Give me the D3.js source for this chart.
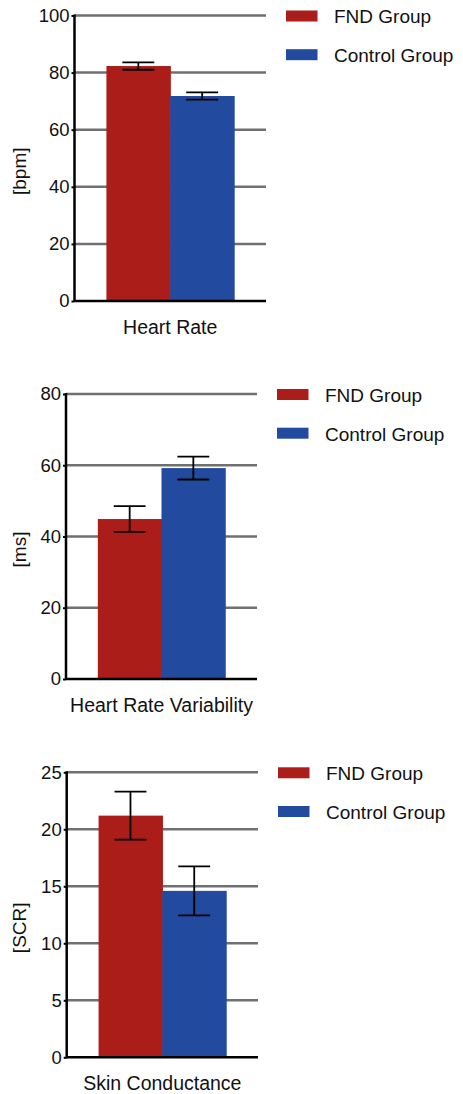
<!DOCTYPE html>
<html>
<head>
<meta charset="utf-8">
<script src="https://cdnjs.cloudflare.com/ajax/libs/d3/7.8.5/d3.min.js"></script>
<style>
  body { margin: 0; background: #fff; }
  text { font-family: "Liberation Sans", Arial, sans-serif; fill: #111; }
</style>
</head>
<body>
<div id="chart"></div>
<script>
// data
var groups = ["FND Group", "Control Group"];
var measures = ["Heart Rate", "Heart Rate Variability", "Skin Conductance"];
var units = ["[bpm]", "[ms]", "[SCR]"];
var fndMeans = [82.3, 44.9, 21.2];
var fndErrors = [1.3, 3.6, 2.1];
var controlMeans = [71.8, 59.2, 14.6];
var controlErrors = [1.25, 3.2, 2.15];
var yMax = [100, 80, 25];
var yTicks = [
    [0, 20, 40, 60, 80, 100],
    [0, 20, 40, 60, 80],
    [0, 5, 10, 15, 20, 25]
];

var colors = ["#aa1d19", "#224a9e"];

var svgWidth = 463;
var svgHeight = 1094;

// where each panel sits on the page
var panels = [
    { left: 74.5, top: 15.5, width: 191.5, height: 285.5 },
    { left: 66, top: 394, width: 191, height: 285 },
    { left: 66.7, top: 772.3, width: 191.3, height: 285 }
];

var svg = d3.select("#chart")
    .append("svg")
    .attr("width", svgWidth)
    .attr("height", svgHeight);

measures.forEach(function(measure, i) {
    var p = panels[i];
    var data = [
        { group: groups[0], mean: fndMeans[i], err: fndErrors[i] },
        { group: groups[1], mean: controlMeans[i], err: controlErrors[i] }
    ];

    var g = svg.append("g")
        .attr("transform", `translate(${p.left}, ${p.top})`);

    var x = d3.scaleBand()
        .domain(groups)
        .range([0, p.width])
        .paddingInner(0)
        .paddingOuter(0.5);

    var y = d3.scaleLinear()
        .domain([0, yMax[i]])
        .range([p.height, 0]);

    // gray gridlines behind the bars
    g.selectAll(".grid")
        .data(yTicks[i].filter(d => d > 0))
        .enter()
        .append("line")
        .attr("x1", 0)
        .attr("x2", p.width)
        .attr("y1", d => y(d))
        .attr("y2", d => y(d))
        .attr("stroke", "#707070")
        .attr("stroke-width", 2.5);

    // bars (slightly widened so the two touch without a seam)
    g.selectAll(".bar")
        .data(data)
        .enter()
        .append("rect")
        .attr("x", d => x(d.group))
        .attr("width", x.bandwidth() + 0.6)
        .attr("y", d => y(d.mean))
        .attr("height", d => p.height - y(d.mean))
        .attr("fill", (d, j) => colors[j]);

    // error bars
    var capHalf = x.bandwidth() / 4;
    var errs = g.selectAll(".err")
        .data(data)
        .enter()
        .append("g")
        .attr("stroke", "#000")
        .attr("stroke-width", 1.8);
    errs.append("line")
        .attr("x1", d => x(d.group) + x.bandwidth() / 2)
        .attr("x2", d => x(d.group) + x.bandwidth() / 2)
        .attr("y1", d => y(d.mean + d.err))
        .attr("y2", d => y(d.mean - d.err));
    errs.append("line")
        .attr("x1", d => x(d.group) + x.bandwidth() / 2 - capHalf)
        .attr("x2", d => x(d.group) + x.bandwidth() / 2 + capHalf)
        .attr("y1", d => y(d.mean + d.err))
        .attr("y2", d => y(d.mean + d.err));
    errs.append("line")
        .attr("x1", d => x(d.group) + x.bandwidth() / 2 - capHalf)
        .attr("x2", d => x(d.group) + x.bandwidth() / 2 + capHalf)
        .attr("y1", d => y(d.mean - d.err))
        .attr("y2", d => y(d.mean - d.err));

    // y axis with short ticks
    var yAxis = g.append("g")
        .call(d3.axisLeft(y).tickValues(yTicks[i]).tickSize(3).tickPadding(2));
    yAxis.select(".domain").remove();
    yAxis.selectAll(".tick line").attr("stroke", "#000").attr("stroke-width", 2);
    yAxis.selectAll(".tick text")
        .attr("font-size", "18.5px")
        .attr("fill", "#111")
        .style("font-family", "'Liberation Sans', Arial, sans-serif");

    // axis lines
    g.append("line")
        .attr("x1", 0).attr("x2", 0)
        .attr("y1", -1).attr("y2", p.height + 1)
        .attr("stroke", "#000")
        .attr("stroke-width", 2.5);
    g.append("line")
        .attr("x1", 0).attr("x2", p.width)
        .attr("y1", p.height).attr("y2", p.height)
        .attr("stroke", "#000")
        .attr("stroke-width", 2.5);

    // x label
    g.append("text")
        .attr("x", p.width / 2)
        .attr("y", p.height + 32.5)
        .attr("text-anchor", "middle")
        .attr("font-size", "19.5px")
        .text(measure);

    // y label
    svg.append("text")
        .attr("transform", `translate(26, ${p.top + p.height / 2 + 13}) rotate(-90)`)
        .attr("text-anchor", "middle")
        .attr("font-size", "19px")
        .text(units[i]);

    // legend
    var legend = g.selectAll(".legend")
        .data(groups)
        .enter()
        .append("g")
        .attr("transform", (d, j) => `translate(${p.width + 20}, ${0.5 + j * 38.7})`);
    legend.append("rect")
        .attr("x", 0)
        .attr("y", -5.5)
        .attr("width", 31.5)
        .attr("height", 11)
        .attr("fill", (d, j) => colors[j]);
    legend.append("text")
        .attr("x", 48)
        .attr("y", 7.3)
        .attr("font-size", "19px")
        .text(d => d);
});
</script>
</body>
</html>
